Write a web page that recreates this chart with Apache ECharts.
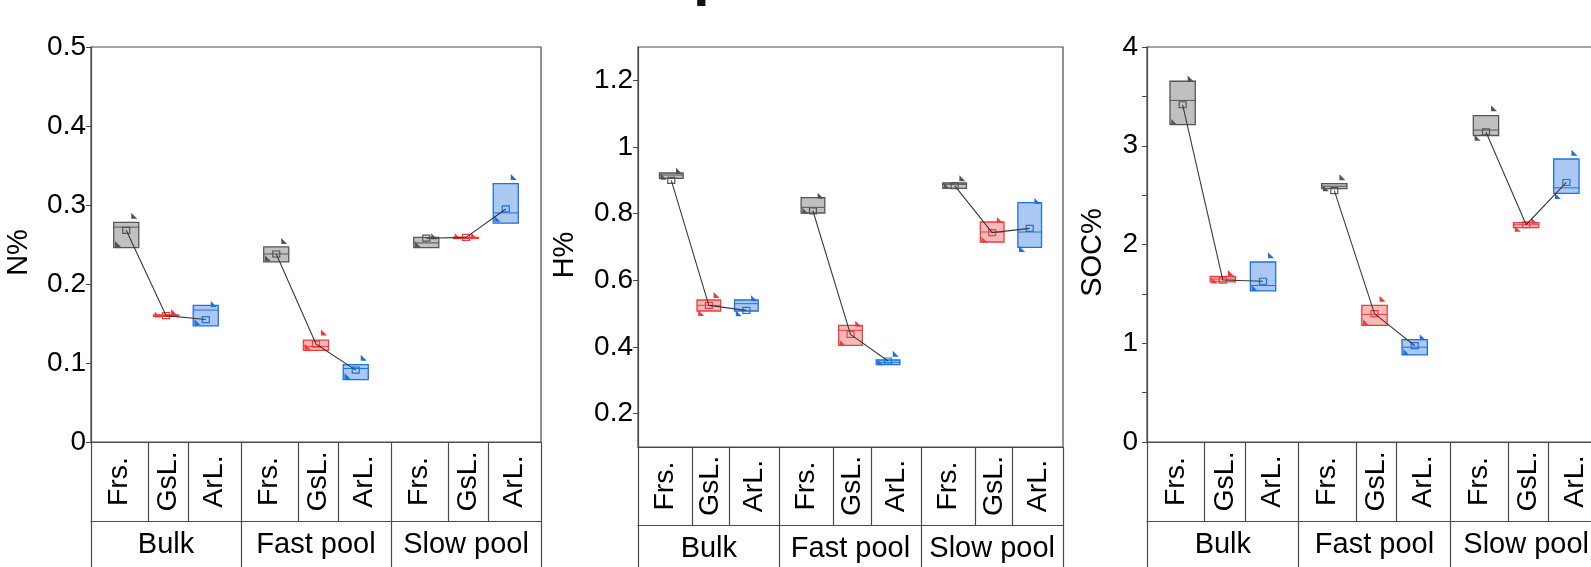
<!DOCTYPE html>
<html>
<head>
<meta charset="utf-8">
<script src="https://cdn.jsdelivr.net/npm/echarts@6/dist/echarts.min.js"></script>
<style>
html, body { margin: 0; padding: 0; background: #fff; }
#chart { width: 1591px; height: 567px; }
</style>
</head>
<body>
<div id="chart"></div>
<script>
// categories
var landUses = ['Frs.', 'GsL.', 'ArL.'];
var pools = ['Bulk', 'Fast pool', 'Slow pool'];

// order of every array: Bulk(Frs, GsL, ArL), Fast pool(Frs, GsL, ArL), Slow pool(Frs, GsL, ArL)
// N%
var nQ1   = [0.246, 0.159, 0.147, 0.228, 0.116, 0.079, 0.246, 0.258, 0.277];
var nQ3   = [0.278, 0.161, 0.173, 0.247, 0.129, 0.098, 0.259, 0.259, 0.327];
var nMed  = [0.272, 0.160, 0.167, 0.238, 0.121, 0.093, 0.252, 0.259, 0.290];
var nMean = [0.268, 0.160, 0.155, 0.238, 0.124, 0.091, 0.258, 0.259, 0.295];
var nMin  = [0.248, 0.159, 0.149, 0.230, 0.118, 0.081, 0.247, 0.258, 0.280];
var nMax  = [0.284, 0.162, 0.172, 0.252, 0.136, 0.104, 0.258, 0.259, 0.333];

// H%
var hQ1   = [0.906, 0.508, 0.508, 0.802, 0.405, 0.347, 0.876, 0.715, 0.699];
var hQ3   = [0.922, 0.541, 0.541, 0.848, 0.465, 0.361, 0.892, 0.775, 0.833];
var hMed  = [0.916, 0.525, 0.530, 0.819, 0.450, 0.354, 0.888, 0.745, 0.745];
var hMean = [0.900, 0.525, 0.510, 0.808, 0.438, 0.358, 0.884, 0.743, 0.756];
var hMin  = [0.905, 0.496, 0.495, 0.803, 0.406, 0.348, 0.877, 0.716, 0.688];
var hMax  = [0.923, 0.550, 0.540, 0.848, 0.464, 0.374, 0.900, 0.775, 0.832];

// SOC%
var sQ1   = [3.214, 1.621, 1.530, 2.566, 1.182, 0.882, 3.104, 2.171, 2.518];
var sQ3   = [3.653, 1.676, 1.823, 2.617, 1.384, 1.036, 3.305, 2.222, 2.866];
var sMed  = [3.459, 1.650, 1.585, 2.590, 1.292, 0.960, 3.159, 2.200, 2.574];
var sMean = [3.415, 1.640, 1.628, 2.545, 1.300, 0.975, 3.140, 2.200, 2.628];
var sMin  = [3.220, 1.615, 1.540, 2.550, 1.190, 0.890, 3.060, 2.140, 2.470];
var sMax  = [3.660, 1.690, 1.870, 2.660, 1.430, 1.040, 3.360, 2.220, 2.910];

// y axis ticks
var hTicks = [0.2, 0.4, 0.6, 0.8, 1.0, 1.2];

var FONT = '"Liberation Sans", Arial, sans-serif';
var AX = '#4a4a4a';
var SPREAD = 0.265;   // box offset inside a pool, in pool widths
var BOXW = 0.167;     // box width, in pool widths
var SEP = [0.38, 0.645];
var colors = [
    { fill: '#c0c0c0', line: '#555555' },
    { fill: '#f7baba', line: '#f03c3c' },
    { fill: '#aac8f2', line: '#1f70e0' }
];

function posOf(k) {
    var g = Math.floor(k / 3), i = k % 3;
    return g + 0.5 + (i - 1) * SPREAD;
}

var sepValues = [], labelValues = [];
for (var g = 0; g < 3; g++) {
    var cuts = [g, g + SEP[0], g + SEP[1], g + 1];
    for (var c = 0; c < 3; c++) {
        sepValues.push(cuts[c]);
        labelValues.push((cuts[c] + cuts[c + 1]) / 2);
    }
}
sepValues.push(3);

var panels = [
    { name: 'N%', q1: nQ1, q3: nQ3, med: nMed, mean: nMean, lo: nMin, hi: nMax,
      grid: { left: 91, top: 47, width: 450, height: 395 }, rowH: 79,
      y: { min: 0, max: 0.5, interval: 0.1 }, nameGap: 58, labelMargin: 5 },
    { name: 'H%', q1: hQ1, q3: hQ3, med: hMed, mean: hMean, lo: hMin, hi: hMax,
      grid: { left: 638, top: 47, width: 425, height: 400 }, rowH: 78,
      y: { min: 0.1, max: 1.3, ticks: hTicks }, nameGap: 59, labelMargin: 5 },
    { name: 'SOC%', q1: sQ1, q3: sQ3, med: sMed, mean: sMean, lo: sMin, hi: sMax,
      grid: { left: 1147, top: 47, width: 455, height: 395 }, rowH: 79,
      y: { min: 0, max: 4, interval: 1, minor: true }, nameGap: 40, labelMargin: 9 }
];

function renderBox(params, api) {
    var x = api.value(0);
    var q1 = api.coord([x, api.value(1)]);
    var q3 = api.coord([x, api.value(2)]);
    var md = api.coord([x, api.value(3)]);
    var mn = api.coord([x, api.value(4)]);
    var lo = api.coord([x, api.value(5)]);
    var hi = api.coord([x, api.value(6)]);
    var col = colors[api.value(7)];
    var w = api.size([BOXW, 0])[0];
    var cx = q1[0];
    var h = Math.max(q1[1] - q3[1], 1);
    var tx = cx + w * 0.2, bx = cx - w * 0.45;
    return {
        type: 'group',
        children: [
            { type: 'rect', shape: { x: cx - w / 2, y: q3[1], width: w, height: h },
              style: { fill: col.fill, stroke: col.line, lineWidth: 1.3 } },
            { type: 'line', shape: { x1: cx - w / 2, y1: md[1], x2: cx + w / 2, y2: md[1] },
              style: { stroke: col.line, lineWidth: 1 } },
            { type: 'polygon', shape: { points: [[tx, hi[1] - 5], [tx + 6, hi[1] + 1], [tx, hi[1] + 1]] },
              style: { fill: col.line } },
            { type: 'polygon', shape: { points: [[bx, lo[1] - 5], [bx + 6, lo[1] + 1], [bx, lo[1] + 1]] },
              style: { fill: col.line } },
            { type: 'rect', shape: { x: cx - 3.5, y: mn[1] - 3, width: 7, height: 6 },
              style: { fill: 'none', stroke: col.line, lineWidth: 1.2 } }
        ]
    };
}

var option = {
    animation: false,
    backgroundColor: '#fff',
    graphic: [
        { type: 'text', left: 693, top: -53, silent: true,
          style: { text: 'p', font: 'bold 60px ' + FONT, fill: '#111' } }
    ],
    grid: [], xAxis: [], yAxis: [], series: []
};

panels.forEach(function (p, pi) {
    option.grid.push({
        left: p.grid.left, top: p.grid.top, width: p.grid.width, height: p.grid.height,
        show: true, borderColor: AX, borderWidth: 1.2, backgroundColor: 'transparent',
        containLabel: false, outerBoundsMode: 'none'
    });

    // label row: land uses with separators
    option.xAxis.push({
        gridIndex: pi, type: 'value', min: 0, max: 3, position: 'bottom',
        axisLine: { show: true, lineStyle: { color: AX, width: 1.2 } },
        axisTick: { show: true, inside: false, length: p.rowH, customValues: sepValues,
                    lineStyle: { color: AX, width: 1.2 } },
        axisLabel: {
            show: true, customValues: labelValues, rotate: 90, align: 'center',
            verticalAlign: 'middle', margin: p.rowH / 2, fontSize: 28.5, color: '#000',
            fontFamily: FONT,
            formatter: function (v) {
                var f = v - Math.floor(v);
                return f < SEP[0] ? landUses[0] : (f < SEP[1] ? landUses[1] : landUses[2]);
            }
        },
        splitLine: { show: false }
    });

    // pool row
    option.xAxis.push({
        gridIndex: pi, type: 'value', min: 0, max: 3, position: 'bottom', offset: p.rowH,
        axisLine: { show: true, lineStyle: { color: AX, width: 1.2 } },
        axisTick: { show: true, inside: false, length: 80, customValues: [0, 1, 2, 3],
                    lineStyle: { color: AX, width: 1.2 } },
        axisLabel: {
            show: true, customValues: [0.5, 1.5, 2.5], margin: 24, verticalAlign: 'middle',
            fontSize: 29, color: '#000', fontFamily: FONT,
            formatter: function (v) { return pools[Math.floor(v)]; }
        },
        splitLine: { show: false }
    });

    var ya = {
        gridIndex: pi, type: 'value', min: p.y.min, max: p.y.max,
        name: p.name, nameLocation: 'middle', nameGap: p.nameGap,
        nameTextStyle: { fontSize: 29, color: '#000', fontFamily: FONT, padding: [0, 16, 0, 0] },
        axisLine: { show: true, lineStyle: { color: AX, width: 1.2 } },
        axisTick: { show: true, inside: false, length: 5, lineStyle: { color: AX, width: 1 } },
        axisLabel: { fontSize: 28, color: '#000', fontFamily: FONT, margin: p.labelMargin,
                     formatter: function (v) { return String(Math.round(v * 10) / 10); } },
        splitLine: { show: false }
    };
    if (p.y.interval) ya.interval = p.y.interval;
    if (p.y.ticks) {
        ya.axisTick.customValues = p.y.ticks;
        ya.axisLabel.customValues = p.y.ticks;
    }
    if (p.y.minor) {
        ya.minorTick = { show: true, splitNumber: 2, length: 5, lineStyle: { color: AX, width: 1 } };
    }
    option.yAxis.push(ya);

    var boxData = [];
    for (var k = 0; k < 9; k++) {
        boxData.push([posOf(k), p.q1[k], p.q3[k], p.med[k], p.mean[k], p.lo[k], p.hi[k], k % 3]);
    }
    option.series.push({
        type: 'custom', xAxisIndex: pi * 2, yAxisIndex: pi, renderItem: renderBox,
        data: boxData, encode: { x: 0, y: [1, 2, 5, 6] }, z: 2, silent: true
    });

    for (var g = 0; g < 3; g++) {
        var pts = [];
        for (var i = 0; i < 3; i++) {
            var kk = g * 3 + i;
            pts.push([posOf(kk), p.mean[kk]]);
        }
        option.series.push({
            type: 'line', xAxisIndex: pi * 2, yAxisIndex: pi, data: pts,
            symbol: 'none', silent: true, z: 4,
            lineStyle: { color: '#3a3a3a', width: 1.1 }
        });
    }
});

var chart = echarts.init(document.getElementById('chart'));
chart.setOption(option);
</script>
</body>
</html>
